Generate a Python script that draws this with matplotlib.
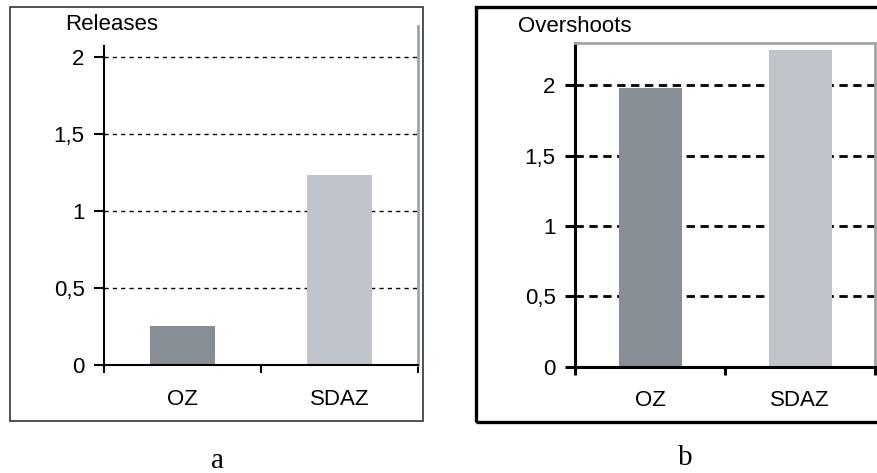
import matplotlib
matplotlib.use("Agg")
import matplotlib.pyplot as plt
from matplotlib.patches import Rectangle

plt.rcParams['font.family'] = ['Liberation Sans', 'DejaVu Sans']

categories = ["OZ", "SDAZ"]
releases = [0.25, 1.23]
overshoots = [1.98, 2.25]
bar_colors = ["#878e95", "#c0c4cb"]
yticks = [0, 0.5, 1, 1.5, 2]
ytick_labels = ["0", "0,5", "1", "1,5", "2"]

W, H = 877, 473
fig = plt.figure(figsize=(W / 100, H / 100), dpi=100)


def px_axes(x0, y0, x1, y1):
    # pixel box (top-left origin) -> figure fraction
    return fig.add_axes([x0 / W, 1 - y1 / H, (x1 - x0) / W, (y1 - y0) / H])


def draw_panel(ax, values, ymax, grid_style, spine_w, top_frame, left_top):
    pos = [0.5, 1.5]
    ax.set_axisbelow(True)
    ax.bar(pos, values, width=0.42, color=bar_colors, zorder=2)
    ax.set_xlim(0, 2)
    ax.set_ylim(0, ymax)
    ax.set_yticks(yticks)
    ax.set_yticklabels(ytick_labels, fontsize=16)
    ax.set_xticks([0, 1, 2])
    ax.set_xticklabels([])
    ax.set_xticks(pos, minor=True)
    ax.set_xticklabels(categories, minor=True, fontsize=16)
    ax.tick_params(axis='x', which='major', direction='out', length=6,
                   width=spine_w, color='black')
    ax.tick_params(axis='x', which='minor', length=0, pad=17)
    ax.tick_params(axis='y', direction='out', length=7, width=spine_w, pad=7)
    for s in ['left', 'bottom']:
        ax.spines[s].set_linewidth(spine_w)
        ax.spines[s].set_color('black')
    ax.spines['left'].set_bounds(0, left_top)
    ax.spines['right'].set_color('#a0a6a8')
    ax.spines['right'].set_linewidth(2)
    if top_frame:
        ax.spines['top'].set_color('#a0a6a8')
        ax.spines['top'].set_linewidth(2)
    else:
        ax.spines['top'].set_visible(False)
    for y in yticks[1:]:
        ax.axhline(y, color='black', zorder=1, **grid_style)
    return ax


# panel a
ax_a = px_axes(104, 26, 418, 365)
draw_panel(ax_a, releases, 2.2, dict(lw=1.0, dashes=(3, 3)), 1.5, False, 2.07)
fig.text(65 / W, 1 - 25 / H, "Releases", fontsize=16, va='center', ha='left')

# panel b
ax_b = px_axes(575, 43.3, 875, 366.7)
draw_panel(ax_b, overshoots, 2.3, dict(lw=2.0, dashes=(3, 2)), 2.2, True, 2.3)
fig.text(518 / W, 1 - 27 / H, "Overshoots", fontsize=16, va='center', ha='left')

# surrounding frames
fig.patches.append(Rectangle((10 / W, 1 - 421 / H), 413 / W, 414 / H,
                             transform=fig.transFigure, fill=False,
                             lw=1.2, edgecolor='#333333'))
fig.patches.append(Rectangle((476 / W, 1 - 422 / H), 420 / W, 415 / H,
                             transform=fig.transFigure, fill=False,
                             lw=2.4, edgecolor='black'))

# panel letters
fig.text(218 / W, 1 - 461 / H, "a", fontsize=21, family='Liberation Serif',
         ha='center', va='center')
fig.text(685 / W, 1 - 458 / H, "b", fontsize=21, family='Liberation Serif',
         ha='center', va='center')

fig.savefig("out.png", dpi=100)
